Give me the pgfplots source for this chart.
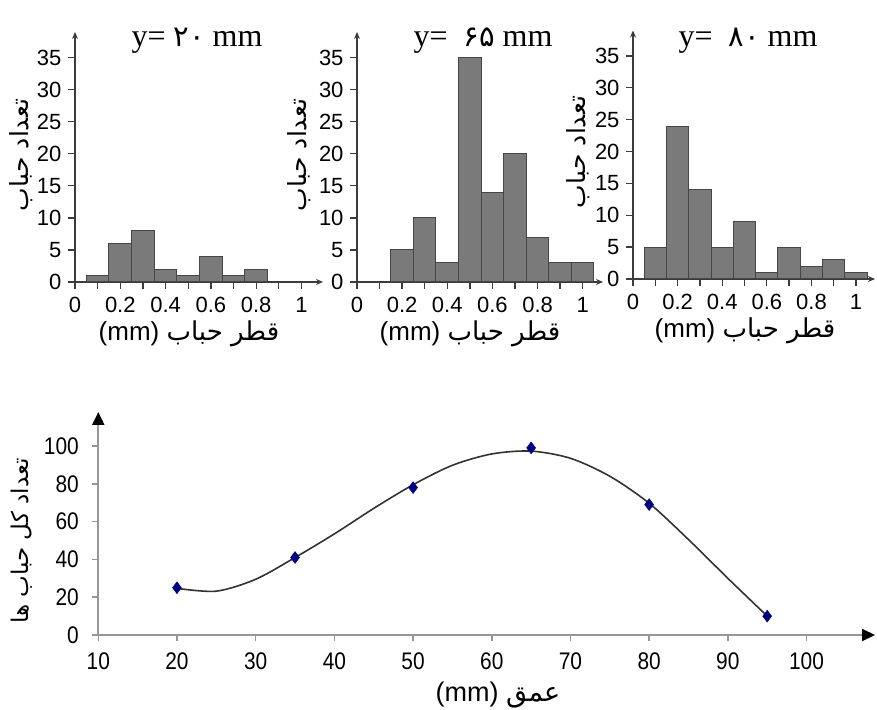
\documentclass[border=0pt]{standalone}
\usepackage{pgfplots}
\pgfplotsset{compat=1.18}
\usetikzlibrary{arrows.meta}
\usepackage{fontspec}
\setmainfont{Liberation Sans}
\newfontfamily\seriffont{Liberation Serif}
\newfontfamily\narrowfont[FakeStretch=0.87]{Liberation Sans}
\newfontfamily\arabicfont[Script=Arabic]{DejaVu Sans}
\TeXXeTstate=1
\definecolor{barfill}{RGB}{122,122,122}
\definecolor{baredge}{RGB}{70,70,70}
\definecolor{axisgray}{RGB}{150,150,150}
\definecolor{navyblue}{RGB}{0,0,128}
\definecolor{histaxis}{RGB}{60,60,60}

\pgfplotsset{
  histo/.style={
    scale only axis, axis lines=left, xmin=0, ymin=0, ymax=39,
    anchor=south west,
    axis line style={line width=1.3pt, histaxis, -{Stealth[length=7pt,width=6pt]}},
    xtick={0,0.2,0.4,0.6,0.8,1}, xticklabels={0,0.2,0.4,0.6,0.8,1},
    minor xtick={0.1,0.3,0.5,0.7,0.9},
    ytick={0,5,...,35},
    tick align=outside, major tick length=7pt, minor tick length=7pt,
    every tick/.style={line width=1.3pt, histaxis},
    minor tick style={line width=1.3pt, histaxis},
    tick label style={font=\fontsize{22}{24}\selectfont},
    xticklabel style={yshift=-5pt},
    yticklabel style={xshift=-3pt},
    /pgf/number format/assume math mode=true,
    ybar, bar width=0.1, bar shift=0pt,
    clip=false,
  },
  histbar/.style={fill=barfill, draw=baredge, line width=1pt},
}

\begin{document}
\begin{tikzpicture}[x=1pt,y=1pt]
\useasboundingbox (0,0) rectangle (877,709);

% ---------- Histogram y = 20 mm ----------
\begin{axis}[histo, at={(75pt,427pt)}, width=248pt, height=250pt, xmax=1.095]
\addplot[histbar] coordinates {(0.1,1) (0.2,6) (0.3,8) (0.4,2) (0.5,1) (0.6,4) (0.7,1) (0.8,2)};
\end{axis}

% ---------- Histogram y = 65 mm ----------
\begin{axis}[histo, at={(357pt,427pt)}, width=246pt, height=250pt, xmax=1.09]
\addplot[histbar] coordinates {(0.2,5) (0.3,10) (0.4,3) (0.5,35) (0.6,14) (0.7,20) (0.8,7) (0.9,3) (1.0,3)};
\end{axis}

% ---------- Histogram y = 80 mm ----------
\begin{axis}[histo, at={(633pt,430pt)}, width=242pt, height=248.5pt, xmax=1.085]
\addplot[histbar] coordinates {(0.1,5) (0.2,24) (0.3,14) (0.4,5) (0.5,9) (0.6,1) (0.7,5) (0.8,2) (0.9,3) (1.0,1)};
\end{axis}

% titles
\node at (197,668) {\fontsize{32}{34}\selectfont\seriffont y= {\arabicfont\fontsize{29}{31}\selectfont ۲۰} mm};
\node at (483,668) {\fontsize{32}{34}\selectfont\seriffont y=\ \ {\arabicfont\fontsize{29}{31}\selectfont ۶۵} mm};
\node at (748,668) {\fontsize{32}{34}\selectfont\seriffont y=\ \ {\arabicfont\fontsize{29}{31}\selectfont ۸۰} mm};

% x labels
\node at (189,375) {\fontsize{26}{28}\selectfont (mm) {\arabicfont\beginR قطر حباب\endR}};
\node at (470,375) {\fontsize{26}{28}\selectfont (mm) {\arabicfont\beginR قطر حباب\endR}};
\node at (745,378) {\fontsize{26}{28}\selectfont (mm) {\arabicfont\beginR قطر حباب\endR}};

% y labels
\node[rotate=90] at (21,554) {\fontsize{25}{27}\selectfont\arabicfont\beginR تعداد حباب\endR};
\node[rotate=90] at (299,554) {\fontsize{25}{27}\selectfont\arabicfont\beginR تعداد حباب\endR};
\node[rotate=90] at (578,557) {\fontsize{25}{27}\selectfont\arabicfont\beginR تعداد حباب\endR};

% ---------- Bottom chart ----------
\begin{axis}[scale only axis, anchor=south west, at={(98.3pt,74pt)},
  width=776.7pt, height=223pt,
  xmin=10, xmax=108.7, ymin=0, ymax=118,
  axis lines=left,
  axis line style={line width=2pt, axisgray, -{Triangle[length=13pt,width=12pt,color=black]}},
  xtick={10,20,...,100}, ytick={0,20,...,100},
  tick align=outside, major tick length=6pt,
  every tick/.style={line width=1.5pt, axisgray},
  tick label style={font=\narrowfont\fontsize{24}{26}\selectfont},
  xticklabel style={yshift=-8pt},
  yticklabel style={xshift=-10pt},
  /pgf/number format/assume math mode=true,
  clip=false]
\addplot[smooth, color=black!80, line width=1.6pt] coordinates {
  (20,24.7) (25,23.2) (30,29.5) (35,41) (40,53.5) (45,67) (50,79.5) (55,89.8)
  (60,95.8) (65,97.3) (70,93.5) (75,84) (80,69.7) (85,50.5) (90,30) (95,10)};
\addplot[only marks, mark=diamond*, mark size=6pt, color=navyblue] coordinates {
  (20,25) (35,41) (50,78) (65,99) (80,69) (95,10)};
\end{axis}

\node at (498,14) {\fontsize{27}{29}\selectfont (mm) {\arabicfont\beginR عمق\endR}};
\node[rotate=90] at (22,168) {\fontsize{23}{25}\selectfont\arabicfont\beginR تعداد کل حباب ها\endR};

\end{tikzpicture}
\end{document}
